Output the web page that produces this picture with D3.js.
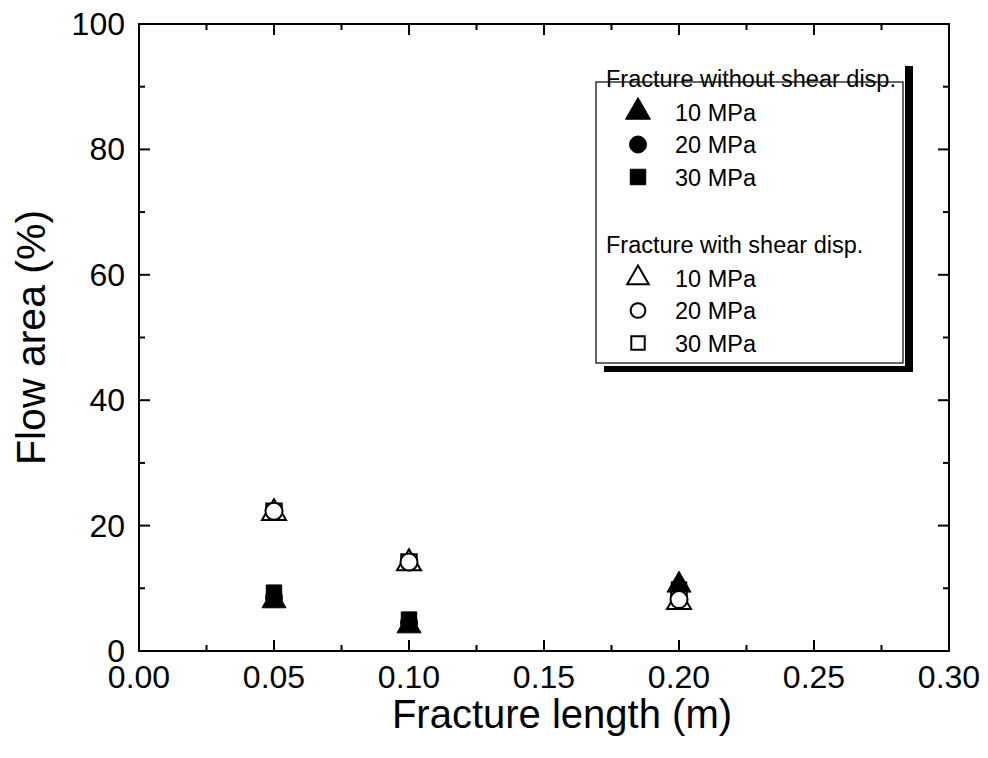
<!DOCTYPE html>
<html>
<head>
<meta charset="utf-8">
<script src="https://cdn.jsdelivr.net/npm/d3@7"></script>
<style>
  body { margin: 0; background: #fff; }
  text { font-family: "Liberation Sans", Arial, sans-serif; fill: #000; }
</style>
</head>
<body>
<script>
// fracture lengths (m)
var lengths = [0.05, 0.10, 0.20];

// flow area (%) - fracture without shear displacement
var noShear10 = [8.0, 4.0, 10.5];
var noShear20 = [8.5, 4.5, 10.0];
var noShear30 = [9.3, 5.0, 9.8];

// flow area (%) - fracture with shear displacement
var shear10 = [22.0, 14.0, 7.8];
var shear20 = [22.3, 14.2, 8.2];
var shear30 = [22.3, 14.2, 8.3];

var xTicks = [0, 0.05, 0.10, 0.15, 0.20, 0.25, 0.30];
var yTicks = [0, 20, 40, 60, 80, 100];
var legendLabels = ["10 MPa", "20 MPa", "30 MPa"];

var width = 988, height = 758;
var margin = {left: 139, right: 39, top: 24, bottom: 107};
var w = width - margin.left - margin.right;
var h = height - margin.top - margin.bottom;

var svg = d3.select("body").append("svg")
    .attr("width", width)
    .attr("height", height);

var x = d3.scaleLinear().domain([0, 0.30]).range([0, w]);
var y = d3.scaleLinear().domain([0, 100]).range([h, 0]);

var g = svg.append("g").attr("transform", "translate(" + margin.left + "," + margin.top + ")");

// frame
g.append("rect")
    .attr("width", w).attr("height", h)
    .attr("fill", "none").attr("stroke", "#000").attr("stroke-width", 2);

// ticks (inward, mirrored on top/right)
var xMinor = d3.range(0.025, 0.30, 0.05);
var yMinor = d3.range(10, 100, 20);
function tickLines(vals, len, horizontal) {
  vals.forEach(function(v) {
    if (horizontal) {
      g.append("line").attr("x1", x(v)).attr("x2", x(v)).attr("y1", h).attr("y2", h - len)
        .attr("stroke", "#000").attr("stroke-width", 2);
      g.append("line").attr("x1", x(v)).attr("x2", x(v)).attr("y1", 0).attr("y2", len)
        .attr("stroke", "#000").attr("stroke-width", 2);
    } else {
      g.append("line").attr("y1", y(v)).attr("y2", y(v)).attr("x1", 0).attr("x2", len)
        .attr("stroke", "#000").attr("stroke-width", 2);
      g.append("line").attr("y1", y(v)).attr("y2", y(v)).attr("x1", w).attr("x2", w - len)
        .attr("stroke", "#000").attr("stroke-width", 2);
    }
  });
}
tickLines(xTicks, 11, true);
tickLines(xMinor, 6, true);
tickLines(yTicks, 11, false);
tickLines(yMinor, 6, false);

// tick labels
g.selectAll(".xl").data(xTicks).enter().append("text")
  .attr("x", function(d) { return x(d); })
  .attr("y", h + 37)
  .attr("text-anchor", "middle")
  .style("font-size", "32px")
  .text(function(d) { return d3.format(".2f")(d); });

g.selectAll(".yl").data(yTicks).enter().append("text")
  .attr("x", -14)
  .attr("y", function(d) { return y(d) + 11; })
  .attr("text-anchor", "end")
  .style("font-size", "32px")
  .text(function(d) { return d; });

// axis titles
svg.append("text")
  .attr("x", 562)
  .attr("y", 728)
  .attr("text-anchor", "middle")
  .style("font-size", "40px")
  .text("Fracture length (m)");

svg.append("text")
  .attr("transform", "translate(45," + (margin.top + h / 2) + ") rotate(-90)")
  .attr("text-anchor", "middle")
  .style("font-size", "41px")
  .text("Flow area (%)");

// markers
var shapes = {tri: d3.symbolTriangle, circ: d3.symbolCircle, sq: d3.symbolSquare};
var sizes = {tri: 250, circ: 227, sq: 240};
function drawSeries(vals, shape, filled) {
  g.selectAll(null).data(vals).enter().append("path")
    .attr("d", d3.symbol().type(shapes[shape]).size(sizes[shape]))
    .attr("transform", function(d, i) { return "translate(" + x(lengths[i]) + "," + y(d) + ")"; })
    .attr("fill", filled ? "#000" : "#fff")
    .attr("stroke", "#000")
    .attr("stroke-width", filled ? 1 : 2);
}
drawSeries(noShear10, "tri", true);
drawSeries(noShear20, "circ", true);
drawSeries(noShear30, "sq", true);
drawSeries(shear30, "sq", false);
drawSeries(shear10, "tri", false);
drawSeries(shear20, "circ", false);

// legend
var lg = svg.append("g");
lg.append("rect").attr("x", 905).attr("y", 66).attr("width", 8).attr("height", 306).attr("fill", "#000");
lg.append("rect").attr("x", 604).attr("y", 366).attr("width", 309).attr("height", 6).attr("fill", "#000");
lg.append("rect").attr("x", 596).attr("y", 82).attr("width", 307).attr("height", 281)
  .attr("fill", "#fff").attr("stroke", "#000").attr("stroke-width", 1.2);

var groups = [
  {title: "Fracture without shear disp.", ty: 87, filled: true},
  {title: "Fracture with shear disp.", ty: 253, filled: false}
];
var legShapes = ["tri", "circ", "sq"];
var legSizes = {tri: 270, circ: 227, sq: 240};
groups.forEach(function(gr) {
  lg.append("text").attr("x", 606).attr("y", gr.ty)
    .style("font-size", "23.5px").text(gr.title);
  legendLabels.forEach(function(lab, i) {
    var cy = gr.ty + 25 + i * 32.5;
    lg.append("path")
      .attr("d", d3.symbol().type(shapes[legShapes[i]]).size(gr.filled ? legSizes[legShapes[i]] : legSizes[legShapes[i]] * 0.75))
      .attr("transform", "translate(638," + cy + ")")
      .attr("fill", gr.filled ? "#000" : "#fff")
      .attr("stroke", "#000").attr("stroke-width", gr.filled ? 1 : 2);
    lg.append("text").attr("x", 675).attr("y", cy + 8.5)
      .style("font-size", "23.5px").text(lab);
  });
});
</script>
</body>
</html>
